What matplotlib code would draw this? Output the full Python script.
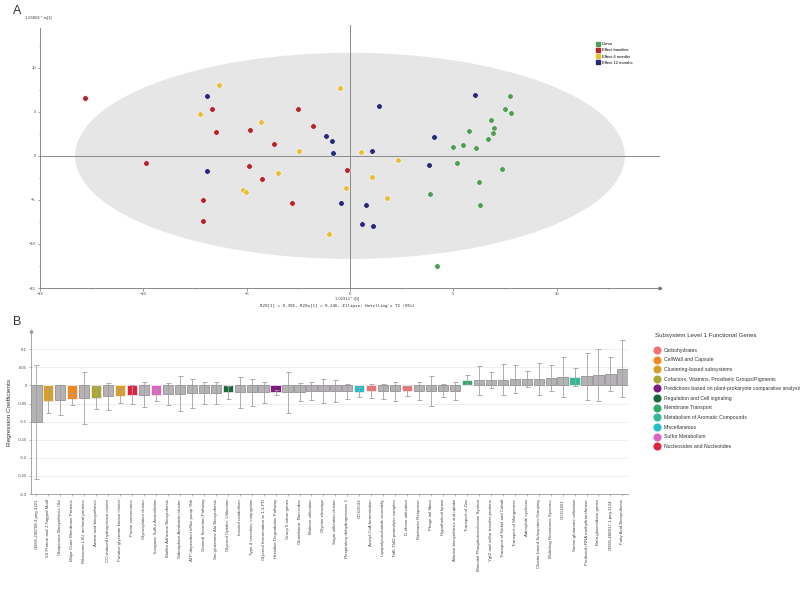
import matplotlib
matplotlib.use('Agg')
import matplotlib.pyplot as plt
from matplotlib.patches import Ellipse
from matplotlib.lines import Line2D
from matplotlib.ticker import MultipleLocator, FixedLocator
import numpy as np

plt.rcParams['font.family'] = ['Liberation Sans', 'DejaVu Sans']

# ---- panel A: OPLS score plot ----
donor_x = [7.74, 7.5, 7.77, 6.83, 6.96, 6.91, 5.77, 6.7, 4.97, 5.49, 6.1, 5.2, 7.36, 6.23, 3.88, 6.31, 4.21]
donor_y = [6.85, 5.3, 4.9, 4.05, 3.2, 2.65, 2.8, 1.9, 0.95, 1.2, 0.84, -0.76, -1.44, -3.0, -4.3, -5.6, -12.5]

base_x = [-12.8, -9.87, -6.7, -6.5, -7.1, -7.1, -4.83, -4.9, -4.26, -3.7, -2.5, -1.8, -2.8, -0.13]
base_y = [6.6, -0.76, 5.3, 2.7, -5.0, -7.4, 2.9, -1.2, -2.6, 1.3, 5.3, 3.4, -5.3, -1.6]

m6_x = [-6.33, -7.25, -4.3, -2.47, -3.5, -5.2, -5.05, -0.48, 0.52, 1.08, 2.3, -0.18, 1.8, -1.0]
m6_y = [8.0, 4.7, 3.8, 0.6, -2.0, -3.9, -4.05, 7.7, 0.4, -2.35, -0.45, -3.6, -4.8, -8.9]

m12_x = [-6.9, -6.9, -1.15, -0.87, -0.82, 1.39, 1.07, -0.42, 0.79, 0.58, 1.13, 6.06, 4.07, 3.81]
m12_y = [6.8, -1.7, 2.3, 1.7, 0.34, 5.7, 0.57, -5.3, -5.6, -7.7, -7.95, 6.9, 2.16, -1.06]

groups = ['Donor', 'Effect baseline', 'Effect 6 months', 'Effect 12 months']
group_colors = ['#4e9e55', '#b5242b', '#e8bd3a', '#27287a']

# ---- panel B: regression coefficients ----
subsystems = ['CBSS-248708.3.peg.3221', '5S Protein and J-Tagged Motif', 'Ubiquinone Biosynthesis Ubi',
              'Major Outer Membrane Proteins', 'Ribosome LSU archaeal proteins', 'Amino acid biosynthesis',
              'CO-induced hydrogenase cluster', 'Putative glycerate kinase cluster',
              'Purine conversions', 'Glycosylation cluster', 'Inorganic Sulfur Assimilation',
              'Biofilm Adhesion Biosynthesis', 'Siderophore Aerobactin cluster',
              'ATP-dependent efflux pump Ybh', 'General Secretion Pathway',
              'Ser-glutamine Ala Biosynthesis', 'Glycerol Uptake, Utilization', 'Inositol catabolism',
              'Type 4 secretion, conjugation', 'Glycerol fermentation to 1,3-PD',
              'Histidine Degradation Pathway', 'Group II intron genes',
              'Glutathione: Non-redox', 'Maltose utilization', 'Glycine cleavage',
              'Sugar utilization cluster', 'Respiratory dehydrogenases 1', 'COG3533',
              'Acetyl-CoA fermentation', 'Lipopolysaccharide assembly',
              'TldE-TldD proteolytic complex', 'D-ribose utilization', 'Bacitracin Response',
              'Phage tail fibers', 'Hypothetical lipase',
              'Alanine biosynthesis and uptake', 'Transport of Zinc',
              'Mannitol Phosphotransferase System', 'YgfZ and sulfur transfer proteins',
              'Transport of Nickel and Cobalt', 'Transport of Manganese', 'Adenylate cyclases',
              'Cluster-based Subsystem Grouping', 'Multidrug Resistance Systems',
              'COG1821', 'Serine-glutamate utilization', 'Predicted rRNA methyltransferase',
              'Beta-glucosidase genes', 'CBSS-488817.1.peg.1124', 'Fatty Acid Biosynthesis']

coef = [-0.101, -0.042, -0.040, -0.037, -0.035, -0.035, -0.030, -0.029, -0.025, -0.025,
        -0.026, -0.023, -0.023, -0.021, -0.021, -0.020, -0.019, -0.019, -0.019, -0.019,
        -0.019, -0.019, -0.017, -0.016, -0.016, -0.016, -0.016, -0.017, -0.016, -0.016,
        -0.016, -0.016, -0.015, -0.015, -0.015, -0.015, 0.016, 0.014, 0.014, 0.016,
        0.017, 0.018, 0.019, 0.021, 0.023, 0.023, 0.025, 0.028, 0.032, 0.046]

coef_err = [0.158, 0.035, 0.042, 0.017, 0.072, 0.031, 0.038, 0.020, 0.026, 0.034,
            0.017, 0.031, 0.048, 0.040, 0.031, 0.031, 0.018, 0.043, 0.038, 0.029,
            0.007, 0.056, 0.025, 0.025, 0.033, 0.031, 0.020, 0.014, 0.019, 0.020,
            0.027, 0.014, 0.025, 0.042, 0.018, 0.026, 0.013, 0.040, 0.022, 0.043,
            0.039, 0.023, 0.044, 0.036, 0.056, 0.025, 0.066, 0.072, 0.048, 0.079]

# level 1 category of each bar (None = not highlighted)
level1 = [None, 'Clustering-based subsystems', None, 'CellWall and Capsule', None,
          'Cofactors, Vitamins, Prosthetic Groups/Pigments', None, 'Clustering-based subsystems',
          'Nucleosides and Nucleotides', None, 'Sulfur Metabolism', None, None, None, None, None,
          'Regulation and Cell signaling', None, None, None,
          'Predictions based on plant-prokaryote comparative analysis', None, None, None, None, None, None,
          'Miscellaneous', 'Carbohydrates', None, None, 'Carbohydrates', None, None, None, None,
          'Membrane Transport', None, None, None, None, None, None, None, None,
          'Metabolism of Aromatic Compounds', None, None, None, None]

legend_names = ['Carbohydrates', 'CellWall and Capsule', 'Clustering-based subsystems',
                'Cofactors, Vitamins, Prosthetic Groups/Pigments',
                'Predictions based on plant-prokaryote comparative analysis', 'Regulation and Cell signaling',
                'Membrane Transport', 'Metabolism of Aromatic Compounds', 'Miscellaneous',
                'Sulfur Metabolism', 'Nucleosides and Nucleotides']
legend_colors = ['#ef7370', '#ef8a22', '#d8a02a', '#aaa832', '#7b1b7e', '#17683a',
                 '#34a866', '#33b99a', '#22c1c8', '#e062c2', '#e0243f']
cat_color = dict(zip(legend_names, legend_colors))

fig = plt.figure(figsize=(8, 5.92), dpi=100)

# ================= A =================
ax = fig.add_axes([0.05, 0.5135, 0.775, 0.439])
ax.add_patch(Ellipse((0, 0), 26.6, 23.4, facecolor='#e6e6e6', edgecolor='none', zorder=0))
ax.plot([0, 0], [-15, 14.9], color='#8a8a8a', lw=0.7, zorder=1, clip_on=False)
ax.plot([-15, 15], [0, 0], color='#8a8a8a', lw=0.7, zorder=1)

for xs, ys, c in zip([donor_x, base_x, m6_x, m12_x], [donor_y, base_y, m6_y, m12_y], group_colors):
    ax.scatter(xs, ys, s=16, color=c, edgecolors='white', linewidths=0.4, zorder=3)

ax.set_xlim(-15, 15)
ax.set_ylim(-15, 14.5)
for s in ['top', 'right']:
    ax.spines[s].set_visible(False)
for s in ['left', 'bottom']:
    ax.spines[s].set_color('#777777')
    ax.spines[s].set_linewidth(0.6)
ax.xaxis.set_major_locator(FixedLocator([-15, -10, -5, 0, 5, 10]))
ax.yaxis.set_major_locator(FixedLocator([-15, -10, -5, 0, 5, 10]))
ax.xaxis.set_minor_locator(MultipleLocator(2.5))
ax.yaxis.set_minor_locator(MultipleLocator(2.5))
ax.tick_params(which='both', labelsize=3, length=1.8, width=0.5, color='#777777', labelcolor='#444444', pad=1.2)
ax.tick_params(which='minor', length=1.0)
ax.plot(1, 0, '>', transform=ax.transAxes, clip_on=False, ms=2, color='#777777')

handles_a = [Line2D([], [], marker='s', ls='', ms=3.2, color=c) for c in group_colors]
fig.legend(handles_a, groups, loc='upper left', bbox_to_anchor=(597 / 800, 1 - 42 / 592),
           fontsize=3, frameon=False, handlelength=0.7, handletextpad=0.4, labelspacing=0.55,
           borderpad=0, borderaxespad=0)

fig.text(25 / 800, 1 - 18 / 592, '1.65804 * to[1]', fontsize=3, color='#444444', va='center')
fig.text(347 / 800, 1 - 298.5 / 592, '1.02313 * t[1]', fontsize=3, color='#444444', ha='center', va='center')
fig.text(260 / 800, 1 - 306 / 592, "R2X[1] = 0.395, R2Xo[1] = 0.246, Ellipse: Hotelling's T2 (95%)",
         fontsize=3.1, family='DejaVu Sans Mono', color='#333333', va='center')
fig.text(13 / 800, 1 - 11 / 592, 'A', fontsize=9, color='#333333', va='center')
fig.text(13 / 800, 1 - 322 / 592, 'B', fontsize=9, color='#333333', va='center')

# ================= B =================
bx = fig.add_axes([0.03875, 0.1655, 0.746, 0.275])
xpos = np.arange(len(coef))
bar_colors = ['#b4b2b4' if c is None else cat_color[c] for c in level1]
edge_colors = ['#858385' if c is None else '#f4f4f4' for c in level1]
bx.bar(xpos, coef, width=0.86, color=bar_colors, edgecolor=edge_colors, linewidth=0.5,
       yerr=coef_err, error_kw=dict(ecolor='#a0a0a0', elinewidth=0.6, capsize=1.8, capthick=0.6), zorder=2)
bx.set_xlim(-0.45, len(coef) - 0.55)
bx.set_ylim(-0.3, 0.15)
bx.yaxis.set_major_locator(FixedLocator([-0.3, -0.25, -0.2, -0.15, -0.1, -0.05, 0, 0.05, 0.1]))
bx.set_yticklabels(['-0.3', '-0.25', '-0.2', '-0.15', '-0.1', '-0.05', '0', '0.05', '0.1'])
bx.yaxis.grid(True, color='#ededed', lw=0.6)
bx.set_axisbelow(True)
for s in ['top', 'right']:
    bx.spines[s].set_visible(False)
for s in ['left', 'bottom']:
    bx.spines[s].set_color('#999999')
    bx.spines[s].set_linewidth(0.6)
bx.set_xticks(xpos)
bx.set_xticklabels(subsystems, rotation=90, fontsize=3.2, color='#444444')
bx.tick_params(axis='y', labelsize=3, length=1.5, width=0.5, color='#999999', labelcolor='#444444', pad=1.5)
bx.tick_params(axis='x', length=1.5, width=0.5, color='#999999', pad=2)
bx.plot(0, 1.0, '^', transform=bx.transAxes, clip_on=False, ms=2, color='#999999')
bx.set_ylabel('Regression Coefficients', fontsize=4.6, color='#333333', labelpad=4)

handles_b = [Line2D([], [], marker='o', ls='', ms=4.8, color=c) for c in legend_colors]
leg = fig.legend(handles_b, legend_names, loc='upper left', bbox_to_anchor=(655 / 800, 1 - 333 / 592),
                 fontsize=3.7, frameon=False, handlelength=0.8, handletextpad=0.9, labelspacing=0.9,
                 borderpad=0, borderaxespad=0, title='Subsystem Level 1 Functional Genes',
                 title_fontsize=4.4, alignment='left')
leg._legend_box.sep = 7
for t in leg.get_texts():
    t.set_color('#333333')
leg.get_title().set_color('#333333')

fig.savefig('out.png', dpi=100)
